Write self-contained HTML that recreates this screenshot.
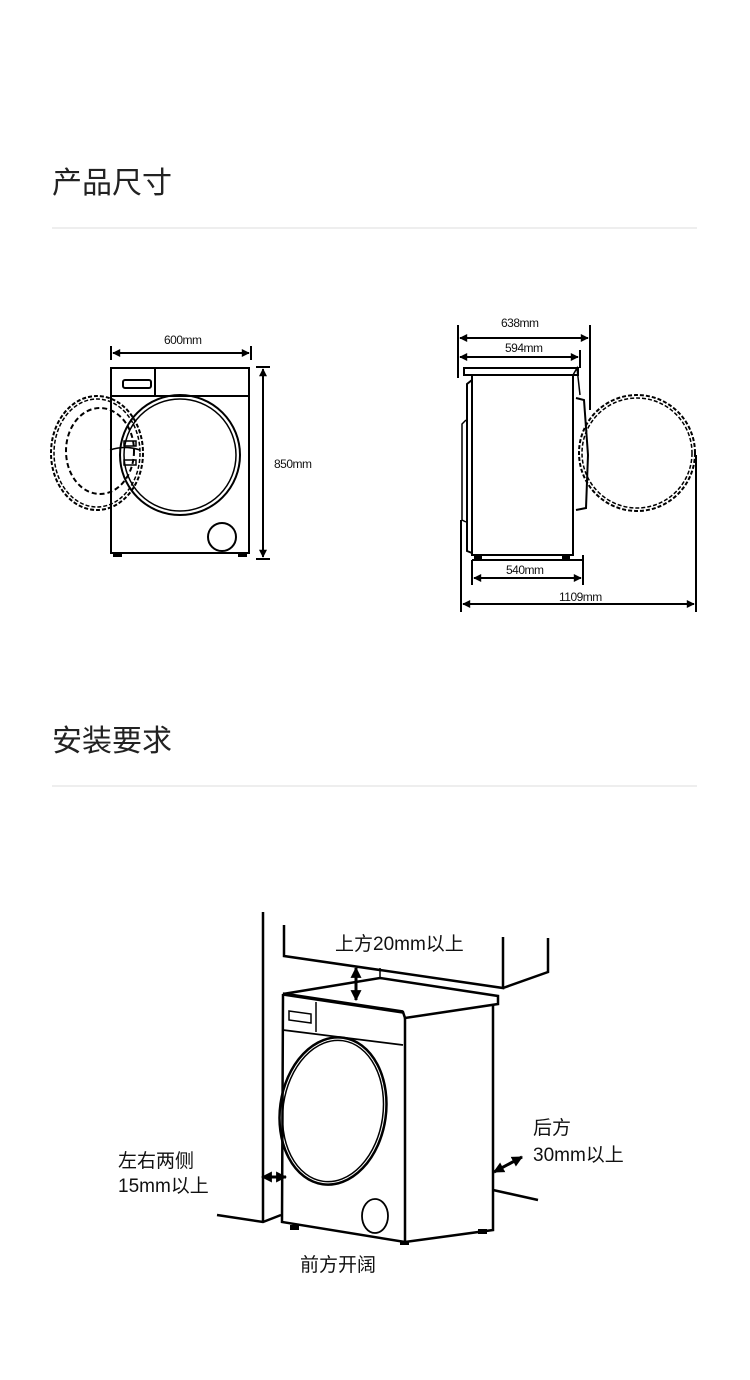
<!DOCTYPE html>
<html><head><meta charset="utf-8"><style>
html,body{margin:0;padding:0;background:#fff}
svg{display:block}
text{font-family:"Liberation Sans","Noto Sans CJK SC",sans-serif;fill:#111}
</style></head><body>
<svg width="750" height="1380" viewBox="0 0 750 1380" xmlns="http://www.w3.org/2000/svg">
<defs>
<marker id="a" viewBox="0 0 10 10" refX="9" refY="5" markerWidth="9" markerHeight="8" markerUnits="userSpaceOnUse" orient="auto-start-reverse"><path d="M0,0L10,5L0,10z" fill="#000"/></marker>
<marker id="b" viewBox="0 0 10 10" refX="9" refY="5" markerWidth="11" markerHeight="13" markerUnits="userSpaceOnUse" orient="auto-start-reverse"><path d="M0,0L10,5L0,10z" fill="#000"/></marker>
</defs>
<text x="52" y="193" font-size="30" style="fill:#222">产品尺寸</text>
<line x1="52" y1="228" x2="697" y2="228" stroke="#ddd" stroke-width="1"/>
<text x="52" y="751" font-size="30" style="fill:#222">安装要求</text>
<line x1="52" y1="786" x2="697" y2="786" stroke="#ddd" stroke-width="1"/>

<!-- front view -->
<g fill="none" stroke="#000" stroke-width="2">
<rect x="111" y="368" width="138" height="185"/>
<line x1="111" y1="396" x2="249" y2="396"/>
<line x1="155" y1="368" x2="155" y2="396"/>
<rect x="123" y="380" width="28" height="8" rx="2"/>
<circle cx="180" cy="455" r="60"/>
<circle cx="180" cy="455" r="56" stroke-width="1.5"/>
<circle cx="222" cy="537" r="14"/>
<ellipse cx="97" cy="453" rx="46" ry="57" stroke-dasharray="4 2"/>
<ellipse cx="97" cy="453" rx="43" ry="54" stroke-dasharray="4 2" stroke-width="1.5"/>
<ellipse cx="100" cy="451" rx="34" ry="43" stroke-dasharray="5 3"/>
<rect x="124" y="441" width="12" height="5" stroke-width="1.5"/>
<rect x="124" y="460" width="12" height="5" stroke-width="1.5"/>
<path d="M110,450 Q125,445 140,450" stroke-width="1.5"/>
</g>
<rect x="113" y="553" width="9" height="4" fill="#000"/>
<rect x="238" y="553" width="9" height="4" fill="#000"/>
<g stroke="#000" stroke-width="2">
<line x1="111" y1="346" x2="111" y2="360"/><line x1="251" y1="346" x2="251" y2="360"/>
<line x1="113" y1="353" x2="249" y2="353" marker-start="url(#a)" marker-end="url(#a)"/>
<line x1="256" y1="367" x2="270" y2="367"/><line x1="256" y1="559" x2="270" y2="559"/>
<line x1="263" y1="369" x2="263" y2="557" marker-start="url(#a)" marker-end="url(#a)"/>
</g>
<text x="164" y="344" font-size="12" letter-spacing="-0.5">600mm</text>
<text x="274" y="468" font-size="12" letter-spacing="-0.5">850mm</text>

<!-- side view -->
<g fill="none" stroke="#000" stroke-width="2">
<rect x="464" y="368" width="114" height="7"/>
<rect x="472" y="375" width="101" height="180"/>
<line x1="472" y1="560" x2="583" y2="560"/>
<line x1="583" y1="555" x2="583" y2="560"/>
<path d="M472,380 L467,384 L467,551 L472,553"/>
<path d="M466,420 L462,424 L462,520 L466,522" stroke-width="1.5"/>
<path d="M573,375 L577,368 L580,395" stroke-width="1.5"/>
<path d="M576,398 L584,400 L588,455 L586,508 L576,510" stroke-width="2"/>
<circle cx="637" cy="453" r="58" stroke-dasharray="4 2"/>
<circle cx="637" cy="453" r="55" stroke-dasharray="4 2" stroke-width="1.5"/>
</g>
<rect x="474" y="555" width="8" height="4" fill="#000"/>
<rect x="562" y="555" width="8" height="4" fill="#000"/>
<g stroke="#000" stroke-width="2">
<line x1="458" y1="325" x2="458" y2="378"/><line x1="590" y1="325" x2="590" y2="410"/>
<line x1="460" y1="338" x2="588" y2="338" marker-start="url(#a)" marker-end="url(#a)"/>
<line x1="580" y1="350" x2="580" y2="368"/>
<line x1="460" y1="357" x2="578" y2="357" marker-start="url(#a)" marker-end="url(#a)"/>
<line x1="472" y1="560" x2="472" y2="585"/><line x1="583" y1="560" x2="583" y2="585"/>
<line x1="474" y1="578" x2="581" y2="578" marker-start="url(#a)" marker-end="url(#a)"/>
<line x1="461" y1="520" x2="461" y2="612"/><line x1="696" y1="455" x2="696" y2="612"/>
<line x1="463" y1="604" x2="694" y2="604" marker-start="url(#a)" marker-end="url(#a)"/>
</g>
<text x="501" y="327" font-size="12" letter-spacing="-0.5">638mm</text>
<text x="505" y="352" font-size="12" letter-spacing="-0.5">594mm</text>
<text x="506" y="574" font-size="12" letter-spacing="-0.5">540mm</text>
<text x="559" y="601" font-size="12" letter-spacing="-0.5">1109mm</text>

<!-- install -->
<g fill="none" stroke="#000" stroke-width="2.5">
<line x1="263" y1="912" x2="263" y2="1222"/>
<polyline points="217,1215 263,1222 281,1215"/>
<polyline points="284,925 284,956 503,988 503,937"/>
<polyline points="503,988 548,972 548,938"/>
<line x1="380" y1="968" x2="380" y2="978" stroke-width="1.5"/>
<polygon points="283,994 380,978 498,996 498,1004 405,1018 403,1012"/>
<line x1="283" y1="994" x2="403" y2="1012" stroke-width="3.5"/>
<polyline points="283,994 282,1222 405,1242 493,1230 493,1005"/>
<line x1="405" y1="1018" x2="405" y2="1242"/>
<line x1="283" y1="1030" x2="403" y2="1045" stroke-width="1.8"/>
<line x1="316" y1="1002" x2="316" y2="1032" stroke-width="1.5"/>
<polygon points="289,1011 311,1014 311,1023 289,1020" stroke-width="1.5"/>
<ellipse cx="333" cy="1111" rx="53" ry="74" transform="rotate(8 333 1111)"/>
<ellipse cx="333" cy="1111" rx="50" ry="71" transform="rotate(8 333 1111)" stroke-width="1.5"/>
<ellipse cx="375" cy="1216" rx="13" ry="17" stroke-width="1.8"/>
<line x1="493" y1="1190" x2="538" y2="1200"/>
</g>
<rect x="290" y="1225" width="9" height="5" fill="#000"/>
<rect x="478" y="1229" width="9" height="5" fill="#000"/>
<rect x="400" y="1241" width="9" height="4" fill="#000"/>
<g stroke="#000" stroke-width="3">
<line x1="356" y1="968" x2="356" y2="1000" marker-start="url(#b)" marker-end="url(#b)"/>
<line x1="262" y1="1177" x2="286" y2="1177" marker-start="url(#b)" marker-end="url(#b)"/>
<line x1="494" y1="1172" x2="522" y2="1157" marker-start="url(#b)" marker-end="url(#b)"/>
</g>
<text x="335" y="950" font-size="19">上方20mm以上</text>
<text x="118" y="1167" font-size="19">左右两侧</text>
<text x="118" y="1192" font-size="19">15mm以上</text>
<text x="533" y="1134" font-size="19">后方</text>
<text x="533" y="1161" font-size="19">30mm以上</text>
<text x="300" y="1271" font-size="19">前方开阔</text>
</svg>
</body></html>
